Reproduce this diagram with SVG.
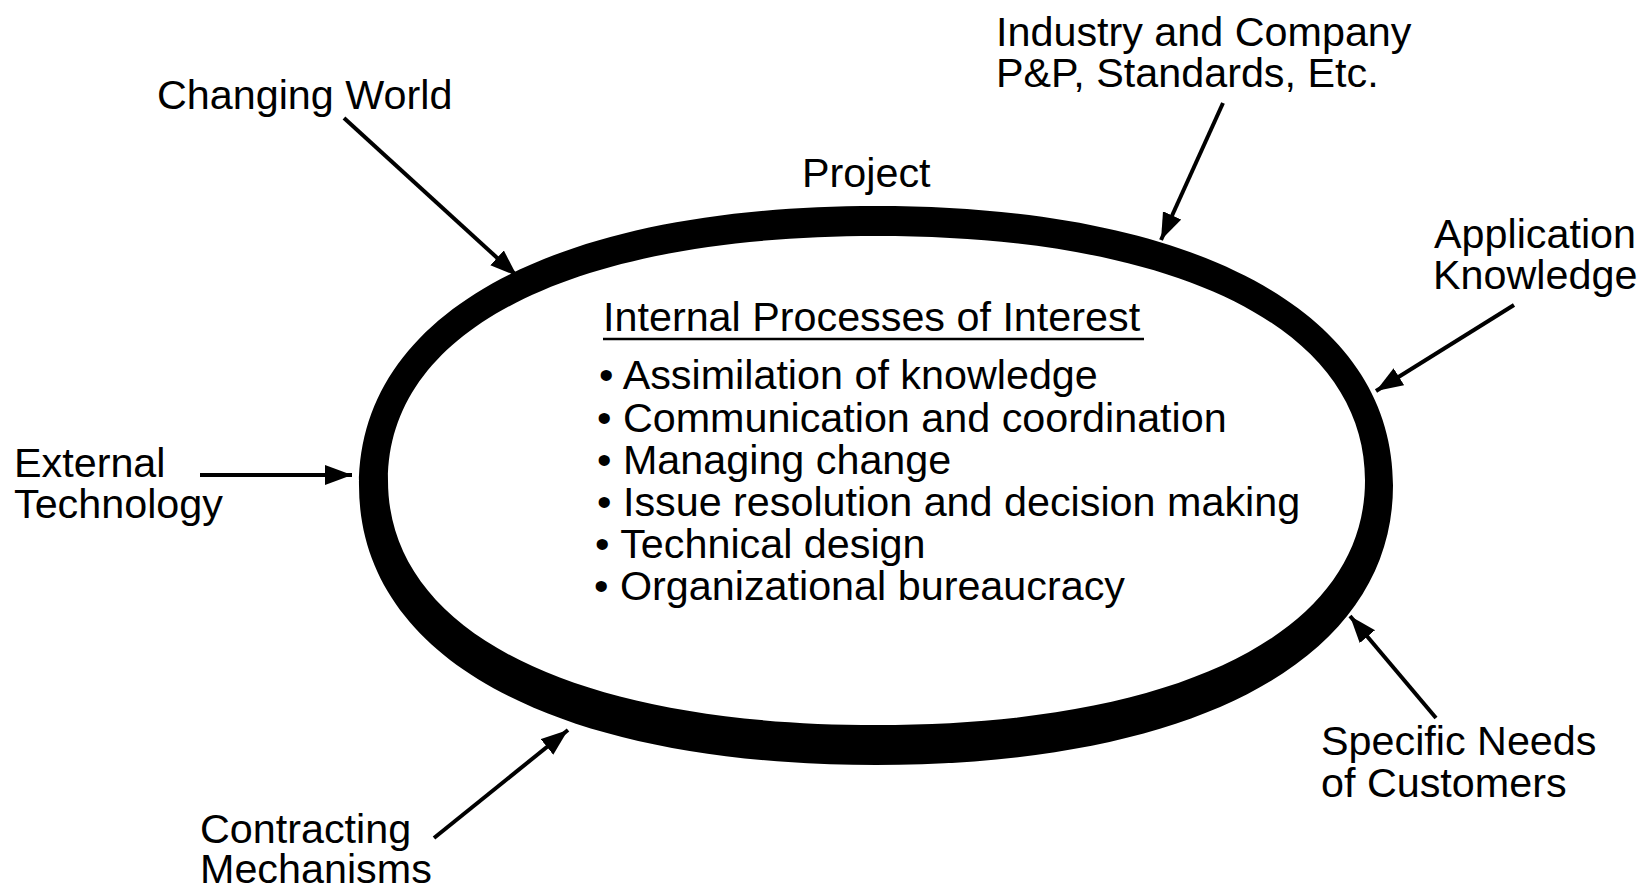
<svg xmlns="http://www.w3.org/2000/svg" width="1649" height="889" viewBox="0 0 1649 889">
<style>
.t{font-family:"Liberation Sans",Arial,Helvetica,sans-serif;font-size:41.3px;fill:#000}
.c{stroke:#000;stroke-width:4;fill:none}
</style>
<defs>
<marker id="ah" markerUnits="userSpaceOnUse" markerWidth="30" markerHeight="22" refX="27" refY="10" orient="auto">
<path d="M0,0 L27,10 L0,20 Z" fill="#000"/>
</marker>
</defs>
<rect width="1649" height="889" fill="#fff"/>
<g id="project">
<path fill="#000" fill-rule="evenodd" d="M1393,485.5 C1393,658.8 1196.5,765 876,765 C555.5,765 359,658.8 359,485.5 C359,312.2 555.5,206 876,206 C1196.5,206 1393,312.2 1393,485.5 Z M1365,480.5 C1365,632.1 1179.4,725 876.5,725 C573.6,725 388,632.1 388,480.5 C388,328.9 573.6,236 876.5,236 C1179.4,236 1365,328.9 1365,480.5 Z"/>
<text class="t" x="802" y="187">Project</text>
<text class="t" x="603" y="331">Internal Processes of Interest</text>
<line x1="603" y1="339" x2="1144" y2="339" stroke="#000" stroke-width="2.5"/>
<text class="t" x="599" y="389">• Assimilation of knowledge</text>
<text class="t" x="597" y="432">• Communication and coordination</text>
<text class="t" x="597" y="474">• Managing change</text>
<text class="t" x="597" y="516">• Issue resolution and decision making</text>
<text class="t" x="595" y="558">• Technical design</text>
<text class="t" x="594" y="600">• Organizational bureaucracy</text>
</g>
<g id="changing-world"><text class="t" x="157" y="109">Changing World</text></g>
<g id="industry"><text class="t" x="996" y="46">Industry and Company</text><text class="t" x="996" y="87">P&amp;P, Standards, Etc.</text></g>
<g id="application"><text class="t" x="1434" y="248">Application</text><text class="t" x="1433" y="289">Knowledge</text></g>
<g id="external"><text class="t" x="14" y="477">External</text><text class="t" x="14" y="518">Technology</text></g>
<g id="contracting"><text class="t" x="200" y="843">Contracting</text><text class="t" x="200" y="883">Mechanisms</text></g>
<g id="customers"><text class="t" x="1321" y="755">Specific Needs</text><text class="t" x="1321" y="797">of Customers</text></g>
<g id="connectors">
<line class="c" x1="344" y1="118" x2="517" y2="276" marker-end="url(#ah)"/>
<line class="c" x1="1223" y1="103" x2="1161" y2="240" marker-end="url(#ah)"/>
<line class="c" x1="1514" y1="305" x2="1376" y2="391" marker-end="url(#ah)"/>
<line class="c" x1="200" y1="475" x2="352" y2="475" marker-end="url(#ah)"/>
<line class="c" x1="434" y1="838" x2="568" y2="730" marker-end="url(#ah)"/>
<line class="c" x1="1436" y1="718" x2="1350" y2="616" marker-end="url(#ah)"/>
</g>
</svg>
